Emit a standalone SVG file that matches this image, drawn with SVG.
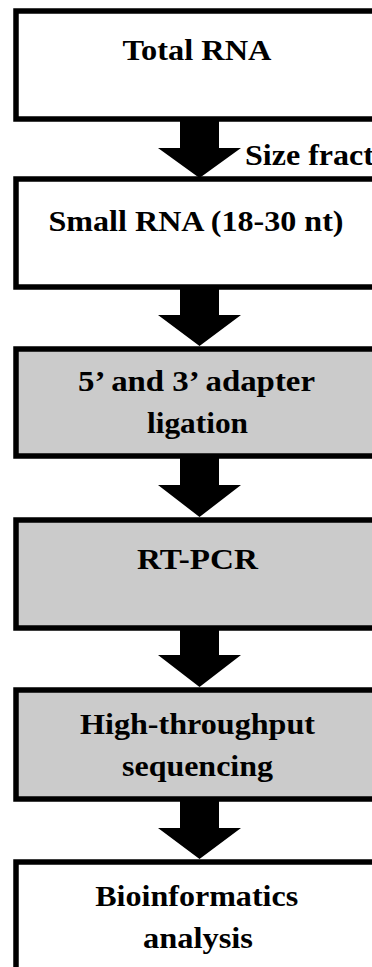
<svg xmlns="http://www.w3.org/2000/svg" width="372" height="967" viewBox="0 0 372 967">
<style>
.box{stroke:#000;stroke-width:5.5;}
.w{fill:#fff;}
.g{fill:#cbcbcb;}
.t{font-family:"Liberation Serif","Times New Roman",serif;font-weight:bold;font-size:29px;fill:#000;text-anchor:middle;}
.lbl{font-family:"Liberation Serif","Times New Roman",serif;font-weight:bold;font-size:29px;fill:#000;}
.arr{fill:#000;}
</style>
<rect width="372" height="967" fill="#fff"/>
<g id="n1"><rect class="box w" x="16" y="11" width="400" height="108"/>
<text class="t" x="197" y="60" textLength="149" lengthAdjust="spacingAndGlyphs">Total RNA</text></g>
<g id="n2"><rect class="box w" x="16" y="179" width="400" height="108"/>
<text class="t" x="196" y="231" textLength="295" lengthAdjust="spacingAndGlyphs">Small RNA (18-30 nt)</text></g>
<g id="n3"><rect class="box g" x="16" y="349" width="400" height="107"/>
<text class="t" x="196.5" y="391" textLength="237" lengthAdjust="spacingAndGlyphs">5’ and 3’ adapter</text>
<text class="t" x="197.5" y="433" textLength="101" lengthAdjust="spacingAndGlyphs">ligation</text></g>
<g id="n4"><rect class="box g" x="16" y="520" width="400" height="108"/>
<text class="t" x="197.5" y="569" textLength="121" lengthAdjust="spacingAndGlyphs">RT-PCR</text></g>
<g id="n5"><rect class="box g" x="16" y="690" width="400" height="109"/>
<text class="t" x="197.5" y="734" textLength="235" lengthAdjust="spacingAndGlyphs">High-throughput</text>
<text class="t" x="197.5" y="776" textLength="151" lengthAdjust="spacingAndGlyphs">sequencing</text></g>
<g id="n6"><rect class="box w" x="16" y="862" width="400" height="140"/>
<text class="t" x="196.7" y="906" textLength="203" lengthAdjust="spacingAndGlyphs">Bioinformatics</text>
<text class="t" x="198" y="948" textLength="110" lengthAdjust="spacingAndGlyphs">analysis</text></g>
<g id="connectors">
<path class="arr" d="M180,121 H219 V148 H241 L199.5,178 L158,148 H180 Z"/>
<path class="arr" d="M180,289 H219 V315 H241 L199.5,346 L158,315 H180 Z"/>
<path class="arr" d="M180,458 H219 V485 H241 L199.5,517 L158,485 H180 Z"/>
<path class="arr" d="M180,630 H219 V655 H241 L199.5,687 L158,655 H180 Z"/>
<path class="arr" d="M180,801 H219 V828 H241 L199.5,859 L158,828 H180 Z"/>
<text class="lbl" x="245" y="165" textLength="129" lengthAdjust="spacingAndGlyphs">Size fract</text>
</g>
</svg>
